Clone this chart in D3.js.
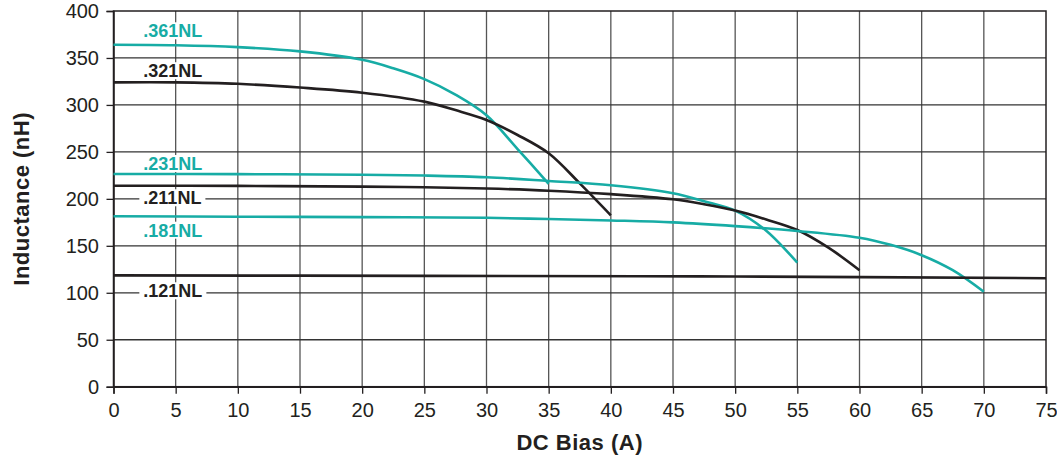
<!DOCTYPE html>
<html>
<head>
<meta charset="utf-8">
<script src="https://cdn.jsdelivr.net/npm/d3@7"></script>
<style>
    body { margin: 0; background: #fff; }
    svg { display: block; font-family: 'Liberation Sans', Arial, sans-serif; }
</style>
</head>
<body>
<div id="chart"></div>
<script>
// values
const xTicks = [0, 5, 10, 15, 20, 25, 30, 35, 40, 45, 50, 55, 60, 65, 70, 75];
const yTicks = [0, 50, 100, 150, 200, 250, 300, 350, 400];

const bias361 = [0, 5, 10, 15, 20, 22.5, 25, 27.5, 30, 32.5, 35];
const ind361 = [364, 363.5, 361.5, 357, 348, 339, 327.5, 311, 289, 253, 216];

const bias321 = [0, 5, 10, 15, 20, 25, 27.5, 30, 32.5, 35, 37.5, 40];
const ind321 = [324, 324, 322.5, 318.5, 313, 303.5, 294.5, 284, 268, 248.5, 216.5, 182.5];

const bias231 = [0, 10, 20, 25, 30, 35, 40, 45, 47.5, 50, 52.5, 55];
const ind231 = [226.5, 226.3, 225.6, 224.8, 223, 219, 214.5, 206, 197.5, 187.5, 166, 132];

const bias211 = [0, 10, 20, 25, 30, 35, 40, 45, 47.5, 50, 52.5, 55, 57.5, 60];
const ind211 = [214, 213.8, 213, 212.3, 211, 208.7, 205, 199.5, 194.2, 187.5, 178, 166.8, 148, 124];

const bias181 = [0, 10, 20, 30, 35, 40, 45, 50, 55, 60, 62.5, 65, 67.5, 70];
const ind181 = [181.5, 181, 180.5, 179.8, 178.5, 177, 175, 171, 165.8, 158.6, 151, 140, 124, 101];

const bias121 = [0, 25, 50, 75];
const ind121 = [118.5, 118, 117.3, 115.5];

const seriesNames = ['.361NL', '.321NL', '.231NL', '.211NL', '.181NL', '.121NL'];
const labelLevels = [372, 329.5, 230.7, 194.2, 159.7, 95.2]; // nH where each name sits

const teal = '#17aca5';
const ink = '#231f20';

const series = [
    { name: seriesNames[0], color: teal, x: bias361, y: ind361, label: labelLevels[0] },
    { name: seriesNames[1], color: ink, x: bias321, y: ind321, label: labelLevels[1] },
    { name: seriesNames[2], color: teal, x: bias231, y: ind231, label: labelLevels[2] },
    { name: seriesNames[3], color: ink, x: bias211, y: ind211, label: labelLevels[3] },
    { name: seriesNames[4], color: teal, x: bias181, y: ind181, label: labelLevels[4] },
    { name: seriesNames[5], color: ink, x: bias121, y: ind121, label: labelLevels[5] },
];

const W = 1057, H = 457;
const margin = { top: 11, right: 11, bottom: 70.3, left: 113.5 };
const width = W - margin.left - margin.right;
const height = H - margin.top - margin.bottom;

const svg = d3.select('#chart')
    .append('svg')
    .attr('width', W)
    .attr('height', H);

const g = svg.append('g')
    .attr('transform', `translate(${margin.left},${margin.top})`);

const xScale = d3.scaleLinear().domain([0, 75]).range([0, width]);
const yScale = d3.scaleLinear().domain([0, 400]).range([height, 0]);

// grid
g.append('g')
    .selectAll('line')
    .data(xTicks.slice(1, -1))
    .enter()
    .append('line')
    .attr('x1', d => xScale(d))
    .attr('x2', d => xScale(d))
    .attr('y1', 0)
    .attr('y2', height)
    .attr('stroke', '#555')
    .attr('stroke-width', 1.3);

g.append('g')
    .selectAll('line')
    .data(yTicks.slice(1, -1))
    .enter()
    .append('line')
    .attr('x1', 0)
    .attr('x2', width)
    .attr('y1', d => yScale(d))
    .attr('y2', d => yScale(d))
    .attr('stroke', '#333')
    .attr('stroke-width', 1.3);

// frame
g.append('rect')
    .attr('width', width)
    .attr('height', height)
    .attr('fill', 'none')
    .attr('stroke', ink)
    .attr('stroke-width', 1.5);

// axes
const xAxis = d3.axisBottom(xScale).tickValues(xTicks).tickSize(7).tickPadding(9);
const yAxis = d3.axisLeft(yScale).tickValues(yTicks).tickSize(7).tickPadding(7.5);

const xg = g.append('g')
    .attr('transform', `translate(0, ${height})`)
    .call(xAxis);
const yg = g.append('g').call(yAxis);

[xg, yg].forEach(a => {
    a.select('.domain').attr('stroke', ink).attr('stroke-width', 1.5);
    a.selectAll('.tick line').attr('stroke', ink).attr('stroke-width', 1.3);
    a.selectAll('.tick text')
        .attr('fill', ink)
        .style('font-size', '20px')
        .style('font-family', "'Liberation Sans', Arial, sans-serif");
});

// curves
const line = d3.line()
    .x(d => xScale(d[0]))
    .y(d => yScale(d[1]))
    .curve(d3.curveCatmullRom.alpha(0.5));

series.forEach(s => {
    g.append('path')
        .datum(s.x.map((v, i) => [v, s.y[i]]))
        .attr('d', line)
        .attr('fill', 'none')
        .attr('stroke', s.color)
        .attr('stroke-width', 2.6);
});

// series names with white backing
series.forEach(s => {
    const lg = g.append('g')
        .attr('transform', `translate(${xScale(2.4)}, ${yScale(s.label)})`);
    const bg = lg.append('rect').attr('fill', '#fff');
    const t = lg.append('text')
        .text(s.name)
        .attr('fill', s.color)
        .style('font-size', '18px')
        .style('font-weight', 'bold');
    const bb = t.node().getBBox();
    bg.attr('x', bb.x - 4).attr('y', -15).attr('width', bb.width + 8).attr('height', 17);
});

// titles
svg.append('text')
    .attr('x', margin.left + width / 2)
    .attr('y', 450)
    .attr('text-anchor', 'middle')
    .attr('fill', ink)
    .style('font-size', '22px')
    .style('font-weight', 'bold')
    .style('letter-spacing', '0.5px')
    .text('DC Bias (A)');

svg.append('text')
    .attr('transform', `translate(29, ${margin.top + height / 2}) rotate(-90)`)
    .attr('text-anchor', 'middle')
    .attr('fill', ink)
    .style('font-size', '22px')
    .style('font-weight', 'bold')
    .style('letter-spacing', '0.5px')
    .text('Inductance (nH)');
</script>
</body>
</html>
